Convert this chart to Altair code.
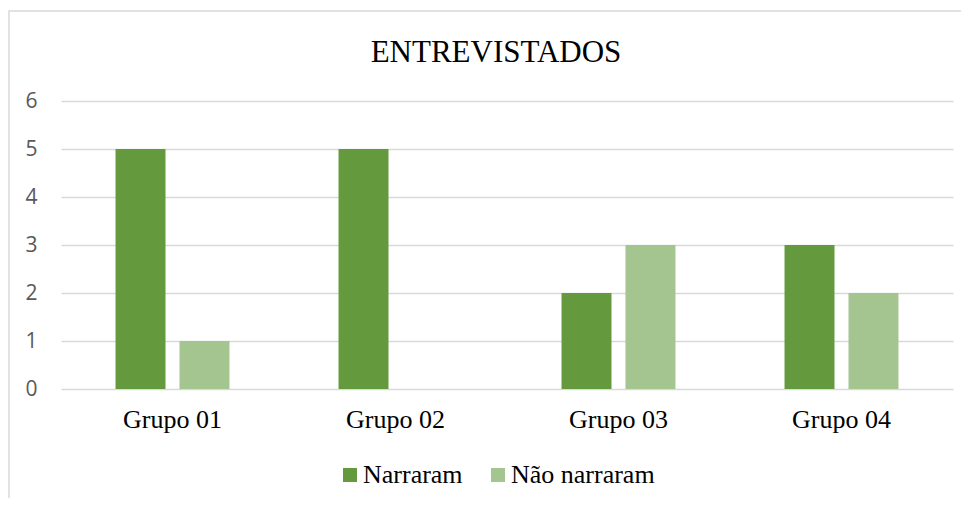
import altair as alt
import pandas as pd

grupos = ["Grupo 01", "Grupo 02", "Grupo 03", "Grupo 04"]
series = ["Narraram", "Não narraram"]
narraram = [5, 5, 2, 3]
nao_narraram = [1, 0, 3, 2]
colors = ["#64993E", "#A4C490"]

rows = []
for g, a, b in zip(grupos, narraram, nao_narraram):
    rows.append({"Grupo": g, "Série": series[0], "Valor": a})
    rows.append({"Grupo": g, "Série": series[1], "Valor": b})
df = pd.DataFrame(rows)

bars = alt.Chart(df).mark_bar().encode(
    x=alt.X("Grupo:N", sort=grupos,
            scale=alt.Scale(paddingInner=0.489, paddingOuter=0.2445),
            axis=alt.Axis(title=None, labelAngle=0, ticks=False, domain=False,
                          labelFont="Liberation Serif", labelFontSize=26,
                          labelColor="#000000", labelPadding=17)),
    xOffset=alt.XOffset("Série:N", sort=series,
                        scale=alt.Scale(paddingInner=0.21875, paddingOuter=0)),
    y=alt.Y("Valor:Q", scale=alt.Scale(domain=[0, 6], nice=False),
            axis=alt.Axis(title=None, values=[0, 1, 2, 3, 4, 5, 6], domain=False,
                          ticks=False, grid=True, gridColor="#D9D9D9", gridWidth=1.3,
                          labelFont="Open Sans", labelFontSize=21,
                          labelColor="#595959", labelPadding=24)),
    color=alt.Color("Série:N", sort=series,
                    scale=alt.Scale(domain=series, range=colors),
                    legend=alt.Legend(title=None, orient="none", legendX=276, legendY=361,
                                      direction="horizontal", symbolType="square",
                                      symbolSize=196, symbolStrokeWidth=0,
                                      labelFont="Liberation Serif", labelFontSize=26,
                                      labelColor="#000000", labelOffset=0,
                                      columnPadding=22)),
)

border = alt.Chart(alt.Data(values=[{"a": 1}])).mark_rect(
    fill=None, stroke="#D9D9D9", strokeWidth=1.5, clip=False
).encode(
    x=alt.value(-52), x2=alt.value(930), y=alt.value(-90), y2=alt.value(430)
)

chart = alt.layer(border, bars).properties(
    width=892, height=288,
    title=alt.TitleParams("ENTREVISTADOS", font="Liberation Serif", fontSize=31,
                          fontWeight="normal", color="#000000", anchor="middle",
                          baseline="alphabetic",
                          frame="group", dx=-11, offset=-82.75),
    autosize=alt.AutoSizeParams(type="none"),
    padding={"left": 53, "top": 93, "right": 8, "bottom": 109},
).configure_view(stroke=None)

chart.save("out.html", embed_options={"renderer": "svg", "actions": False})
